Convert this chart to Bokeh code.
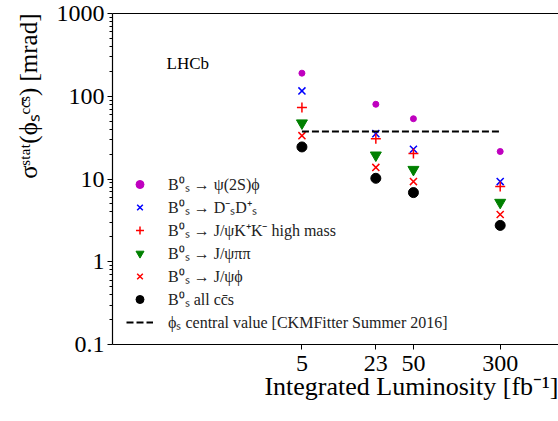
from bokeh.plotting import figure
from bokeh.models import Range1d, FixedTicker, LogAxis, Legend, LegendItem, Label, Title
from bokeh.embed import file_html
from bokeh.resources import INLINE

# ---- data ----
lumi = [5, 23, 50, 300]
lumi_tick_labels = ["5", "23", "50", "300"]

psi2s_phi = [190, 80, 53.5, 21.5]
ds_ds = [116, 35.3, 22.9, 9.3]
jpsi_kk_high = [73, 30.7, 20.3, 8.1]
jpsi_pipi = [47.4, 19.4, 13.0, 5.2]
jpsi_phi = [33.4, 13.8, 9.3, 3.73]
all_ccs = [24.4, 10.2, 6.85, 2.75]
phis_central = 37.6

series_labels = [
    "B\u2070\u209b \u2192 \u03c8(2S)\u03d5",
    "B\u2070\u209b \u2192 D\u207b\u209bD\u207a\u209b",
    "B\u2070\u209b \u2192 J/\u03c8K\u207aK\u207b high mass",
    "B\u2070\u209b \u2192 J/\u03c8\u03c0\u03c0",
    "B\u2070\u209b \u2192 J/\u03c8\u03d5",
    "B\u2070\u209b all cc\u0304s",
    "\u03d5\u209b central value [CKMFitter Summer 2016]",
]

x_label = "Integrated Luminosity [fb\u207b\u00b9]"
y_label = "\u03c3\u02e2\u1d57\u1d43\u1d57(\u03d5\u209b\u1d9c\u1d9c\u0304\u02e2) [mrad]"

y_ticks = [0.1, 1, 10, 100, 1000]
y_tick_labels = ["0.1", "1", "10", "100", "1000"]
y_minor = [m * 10.0 ** e for e in range(-1, 3) for m in range(2, 10)]

FONT = "Liberation Serif"

p = figure(width=558, height=421, x_axis_type="log", y_axis_type="log",
           x_range=Range1d(0.1, 1000), y_range=Range1d(0.1, 1000),
           output_backend="svg", toolbar_location=None,
           min_border_left=112, min_border_right=0, min_border_top=13,
           min_border_bottom=77)
p.outline_line_color = None
p.xgrid.visible = False
p.ygrid.visible = False
p.background_fill_color = "white"

r1 = p.scatter(lumi, psi2s_phi, marker="circle", size=6, color="#bf00bf")
r2 = p.scatter(lumi, ds_ds, marker="x", size=10, line_color="blue", line_width=1.5)
r3 = p.scatter(lumi, jpsi_kk_high, marker="cross", size=10, line_color="red", line_width=1.5)
r4 = p.scatter(lumi, jpsi_pipi, marker="inverted_triangle", size=11, color="green")
r5 = p.scatter(lumi, jpsi_phi, marker="x", size=10, line_color="red", line_width=1.5)
r6 = p.scatter(lumi, all_ccs, marker="circle", size=10, color="black")
r7 = p.line([lumi[0], lumi[-1]], [phis_central, phis_central], line_dash="7 3",
            line_width=2, color="black")

xa = p.xaxis[0]
xa.ticker = FixedTicker(ticks=lumi, minor_ticks=[])
xa.major_label_overrides = {float(v): s for v, s in zip(lumi, lumi_tick_labels)}

ya = p.yaxis[0]
ya.ticker = FixedTicker(ticks=y_ticks, minor_ticks=y_minor)
ya.major_label_overrides = {float(v): s for v, s in zip(y_ticks, y_tick_labels)}

for ax in (xa, ya):
    ax.major_tick_out = 5
    ax.major_tick_in = 0
    ax.minor_tick_out = 3
    ax.minor_tick_in = 0
    ax.axis_line_width = 1.2
    ax.axis_line_color = "black"
    ax.major_tick_line_color = "black"
    ax.minor_tick_line_color = "black"
    ax.major_label_text_font = FONT
    ax.major_label_text_font_size = "24px"
    ax.major_label_text_color = "black"

xa.major_label_standoff = 6
ya.major_label_standoff = 3

top = LogAxis(ticker=FixedTicker(ticks=[], minor_ticks=[]),
              major_label_text_font_size="0px", major_tick_out=0, major_tick_in=0,
              minor_tick_out=0, minor_tick_in=0, major_label_standoff=0,
              axis_line_width=1.2, axis_line_color="black")
p.add_layout(top, "above")

# axis titles
p.add_layout(Title(text=x_label, align="right", text_font=FONT, text_font_size="26px",
                   text_font_style="normal", text_color="black", standoff=-8), "below")
p.add_layout(Title(text=y_label, align="right", text_font=FONT, text_font_size="25px",
                   text_font_style="normal", text_color="black", standoff=24), "left")

p.add_layout(Label(x=54, y=281, x_units="screen", y_units="screen", text="LHCb",
                   text_font=FONT, text_font_size="17px", text_baseline="middle",
                   text_color="black"))

renderers = [r1, r2, r3, r4, r5, r6, r7]
legend = Legend(items=[LegendItem(label=lab, renderers=[r]) for lab, r in zip(series_labels, renderers)],
                location=(14, 11), padding=0, margin=0, spacing=1,
                glyph_width=27, glyph_height=20, label_height=20, label_standoff=15,
                label_text_font=FONT, label_text_font_size="16px", label_text_color="#222222",
                border_line_color=None, background_fill_alpha=0)
p.add_layout(legend)

open("out.html", "w").write(file_html(p, INLINE))
